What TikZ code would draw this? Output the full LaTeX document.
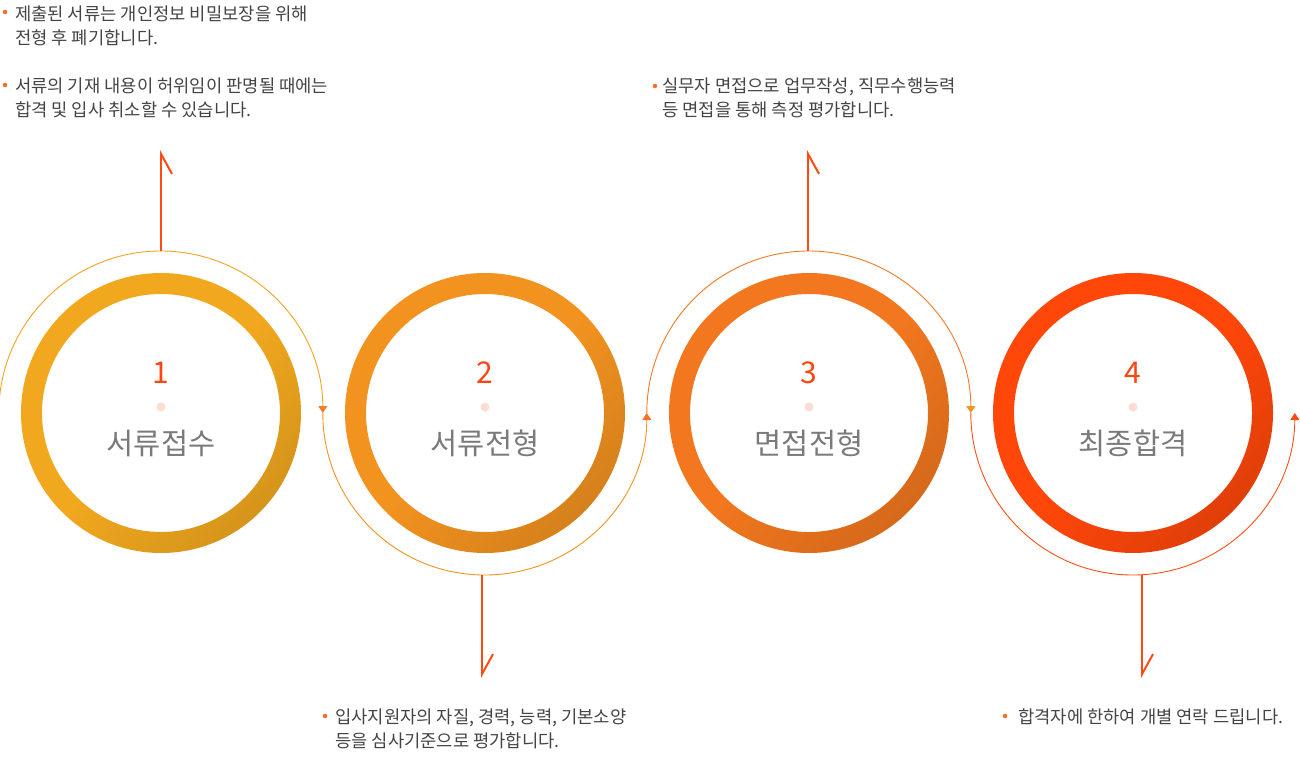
\documentclass[tikz,border=0pt]{standalone}
\usepackage{fontspec}
\setmainfont{Noto Sans CJK KR}
\usetikzlibrary{arrows.meta}
\usetikzlibrary{positioning}

\definecolor{ringA}{HTML}{F2A81E}
\definecolor{ringB}{HTML}{F2921F}
\definecolor{ringC}{HTML}{F2771E}
\definecolor{ringD}{HTML}{FF470A}
\definecolor{arcA}{HTML}{F2A31F}
\definecolor{arcB}{HTML}{F3921F}
\definecolor{arcC}{HTML}{F27A22}
\definecolor{arcD}{HTML}{FF4F14}
\definecolor{tipA}{HTML}{F27D2C}
\definecolor{tipB}{HTML}{F27424}
\definecolor{tipC}{HTML}{F3961F}
\definecolor{tipD}{HTML}{FF4A12}
\definecolor{pointc}{HTML}{FF4A12}
\definecolor{numc}{HTML}{FF4512}
\definecolor{labelc}{HTML}{7A7A7A}
\definecolor{dotc}{HTML}{FDDCD2}
\definecolor{notec}{HTML}{444444}
\definecolor{bulletc}{HTML}{FF6A20}

\begin{document}
\begin{tikzpicture}[x=1pt, y=1pt,
    stepnode/.style={circle, minimum size=324pt, inner sep=0pt},
    ringshade/.style={even odd rule, top color=#1, bottom color=#1!88!black, middle color=#1, shading angle=45},
    stepnum/.style={font=\fontsize{30}{30}\selectfont, text=numc, inner sep=0pt},
    stepdot/.style={circle, fill=dotc, minimum size=9pt, inner sep=0pt},
    steplabel/.style={font=\fontsize{29.5}{29.5}\selectfont, text=labelc, inner sep=0pt},
    flow/.style={draw=#1, line width=0.9pt},
    pointup/.style={draw=pointc, line width=2pt, -{Straight Barb[harpoon, swap, length=20pt, width=22pt]}},
    pointdown/.style={draw=pointc, line width=2pt, -{Straight Barb[harpoon, length=20pt, width=22pt]}},
    note/.style={font=\fontsize{17.7}{24}\selectfont, text=notec, align=left, anchor=north west, inner sep=0pt},
    bullet/.style={circle, fill=bulletc, minimum size=4.5pt, inner sep=0pt}]
\useasboundingbox (0,0) rectangle (1300,-770);

\node[stepnode] (stepA) at (161,-413) {};
\node[stepnode] (stepB) at (485,-413) {};
\node[stepnode] (stepC) at (809,-413) {};
\node[stepnode] (stepD) at (1133,-413) {};

% rings
\shade[ringshade=ringA] (stepA.center) circle[radius=140] circle[radius=119];
\shade[ringshade=ringB] (stepB.center) circle[radius=140] circle[radius=119];
\shade[ringshade=ringC] (stepC.center) circle[radius=140] circle[radius=119];
\shade[ringshade=ringD] (stepD.center) circle[radius=140] circle[radius=119];

\node[stepnum]   (numA)   at ([yshift=40]stepA.center)  {1};
\node[stepdot]   (dotA)   at ([yshift=6]stepA.center)   {};
\node[steplabel] (labelA) at ([yshift=-30]stepA.center) {서류접수};
\node[stepnum]   (numB)   at ([yshift=40]stepB.center)  {2};
\node[stepdot]   (dotB)   at ([yshift=6]stepB.center)   {};
\node[steplabel] (labelB) at ([yshift=-30]stepB.center) {서류전형};
\node[stepnum]   (numC)   at ([yshift=40]stepC.center)  {3};
\node[stepdot]   (dotC)   at ([yshift=6]stepC.center)   {};
\node[steplabel] (labelC) at ([yshift=-30]stepC.center) {면접전형};
\node[stepnum]   (numD)   at ([yshift=40]stepD.center)  {4};
\node[stepdot]   (dotD)   at ([yshift=6]stepD.center)   {};
\node[steplabel] (labelD) at ([yshift=-30]stepD.center) {최종합격};

% flow arcs
\draw[flow=arcA, -{Triangle[width=9pt, length=7pt, color=tipA]}] (stepA.west) arc[start angle=180, end angle=0, radius=162];
\draw[flow=arcB, -{Triangle[width=9pt, length=7pt, color=tipB]}] (stepB.west) arc[start angle=180, end angle=360, radius=162];
\draw[flow=arcC, -{Triangle[width=9pt, length=7pt, color=tipC]}] (stepC.west) arc[start angle=180, end angle=0, radius=162];
\draw[flow=arcD, -{Triangle[width=9pt, length=7pt, color=tipD]}] (stepD.west) arc[start angle=180, end angle=360, radius=162];

% pointers
\coordinate (tipA) at (161,-150);
\coordinate (tipB) at (482,-678);
\coordinate (tipC) at (808,-150);
\coordinate (tipD) at (1142,-678);
\draw[pointup]   (stepA.north -| tipA) -- (tipA);
\draw[pointdown] (stepB.south -| tipB) -- (tipB);
\draw[pointup]   (stepC.north -| tipC) -- (tipC);
\draw[pointdown] (stepD.south -| tipD) -- (tipD);

% notes
\node[note] (noteA1) at (15,-6) {제출된 서류는 개인정보 비밀보장을 위해\\전형 후 폐기합니다.};
\node[note] (noteA2) at (15,-78) {서류의 기재 내용이 허위임이 판명될 때에는\\합격 및 입사 취소할 수 있습니다.};
\node[note] (noteC) at (662,-78) {실무자 면접으로 업무작성, 직무수행능력\\등 면접을 통해 측정 평가합니다.};
\node[note] (noteB) at (335,-709) {입사지원자의 자질, 경력, 능력, 기본소양\\등을 심사기준으로 평가합니다.};
\node[note] (noteD) at (1018,-709) {합격자에 한하여 개별 연락 드립니다.};

\node[bullet] (bulletA1) at ([shift={(-10,-6)}]noteA1.north west) {};
\node[bullet] (bulletA2) at ([shift={(-10,-7)}]noteA2.north west) {};
\node[bullet] (bulletC)  at ([shift={(-7,-8)}]noteC.north west)   {};
\node[bullet] (bulletB)  at ([shift={(-10,-7)}]noteB.north west)  {};
\node[bullet] (bulletD)  at ([shift={(-13,-7)}]noteD.north west)  {};
\end{tikzpicture}
\end{document}
